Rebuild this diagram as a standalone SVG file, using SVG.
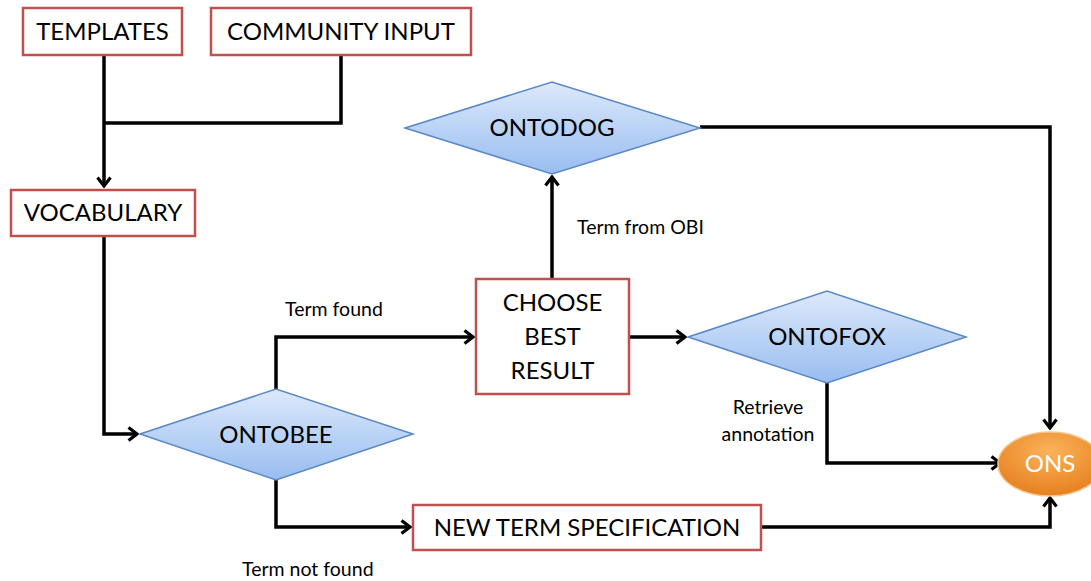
<svg xmlns="http://www.w3.org/2000/svg" width="1091" height="581" viewBox="0 0 1091 581">
<style>
.box{fill:#fff;stroke:#c0504d;stroke-width:2.5}
.dia{fill:url(#blue);stroke:#5b87c5;stroke-width:1.5}
.t{font-family:Lato,"Open Sans",sans-serif;font-size:24px;fill:#000;text-anchor:middle}
.l{font-family:Lato,"Open Sans",sans-serif;font-size:19.5px;fill:#000}
.c{fill:none;stroke:#000;stroke-width:3.5}
</style>
<defs>
<linearGradient id="blue" x1="0" y1="0" x2="0" y2="1">
<stop offset="0" stop-color="#dde9fb"/>
<stop offset="1" stop-color="#98bdf0"/>
</linearGradient>
<radialGradient id="orange" cx="0.5" cy="0.3" r="0.7">
<stop offset="0" stop-color="#fbb25a"/>
<stop offset="1" stop-color="#e6801e"/>
</radialGradient>
<marker id="arr" markerWidth="12" markerHeight="16" refX="10" refY="8" orient="auto" markerUnits="userSpaceOnUse">
<path d="M1.5,1.5 L10,8 L1.5,14.5" fill="none" stroke="#000" stroke-width="3.2"/>
</marker>
</defs>
<g id="connectors">
<path class="c" d="M104,55 V186" marker-end="url(#arr)"/>
<path class="c" d="M341,55 V123 H104"/>
<path class="c" d="M104,236 V434 H137" marker-end="url(#arr)"/>
<path class="c" d="M276,389 V337 H473" marker-end="url(#arr)"/>
<path class="c" d="M629,337 H685" marker-end="url(#arr)"/>
<path class="c" d="M552,279 V177" marker-end="url(#arr)"/>
<path class="c" d="M700,127 H1050 V428" marker-end="url(#arr)"/>
<path class="c" d="M827,382 V463 H1000" marker-end="url(#arr)"/>
<path class="c" d="M276,480 V527 H410" marker-end="url(#arr)"/>
<path class="c" d="M761,527 H1050 V498" marker-end="url(#arr)"/>
</g>
<g id="templates"><rect class="box" x="23" y="8" width="159" height="47"/><text class="t" x="102.5" y="40">TEMPLATES</text></g>
<g id="community"><rect class="box" x="211" y="8" width="260" height="47"/><text class="t" x="341" y="40">COMMUNITY INPUT</text></g>
<g id="vocabulary"><rect class="box" x="11" y="190" width="184" height="46"/><text class="t" x="103" y="221">VOCABULARY</text></g>
<g id="ontodog"><polygon class="dia" points="405,128 552,82 700,128 552,174"/><text class="t" x="552" y="136">ONTODOG</text></g>
<g id="choose"><rect class="box" x="476" y="279" width="153" height="115"/><text class="t" x="552.5" y="311">CHOOSE</text><text class="t" x="552.5" y="345">BEST</text><text class="t" x="552.5" y="379">RESULT</text></g>
<g id="ontofox"><polygon class="dia" points="688,337 827,291 966,337 827,383"/><text class="t" x="827" y="345">ONTOFOX</text></g>
<g id="ontobee"><polygon class="dia" points="140,434 276,389 413,434 276,480"/><text class="t" x="276" y="443">ONTOBEE</text></g>
<g id="newterm"><rect class="box" x="413" y="505" width="348" height="45"/><text class="t" x="587" y="536">NEW TERM SPECIFICATION</text></g>
<g id="ons"><ellipse cx="1050" cy="464" rx="52" ry="32" fill="url(#orange)" stroke="#f6c48c" stroke-width="1.5"/><text class="t" x="1050" y="472" style="fill:#fff">ONS</text></g>
<g id="labels">
<text class="l" x="285" y="316">Term found</text>
<text class="l" x="577" y="234">Term from OBI</text>
<text class="l" x="768" y="414" text-anchor="middle">Retrieve</text>
<text class="l" x="768" y="441" text-anchor="middle">annotation</text>
<text class="l" x="242" y="576">Term not found</text>
</g>
</svg>
